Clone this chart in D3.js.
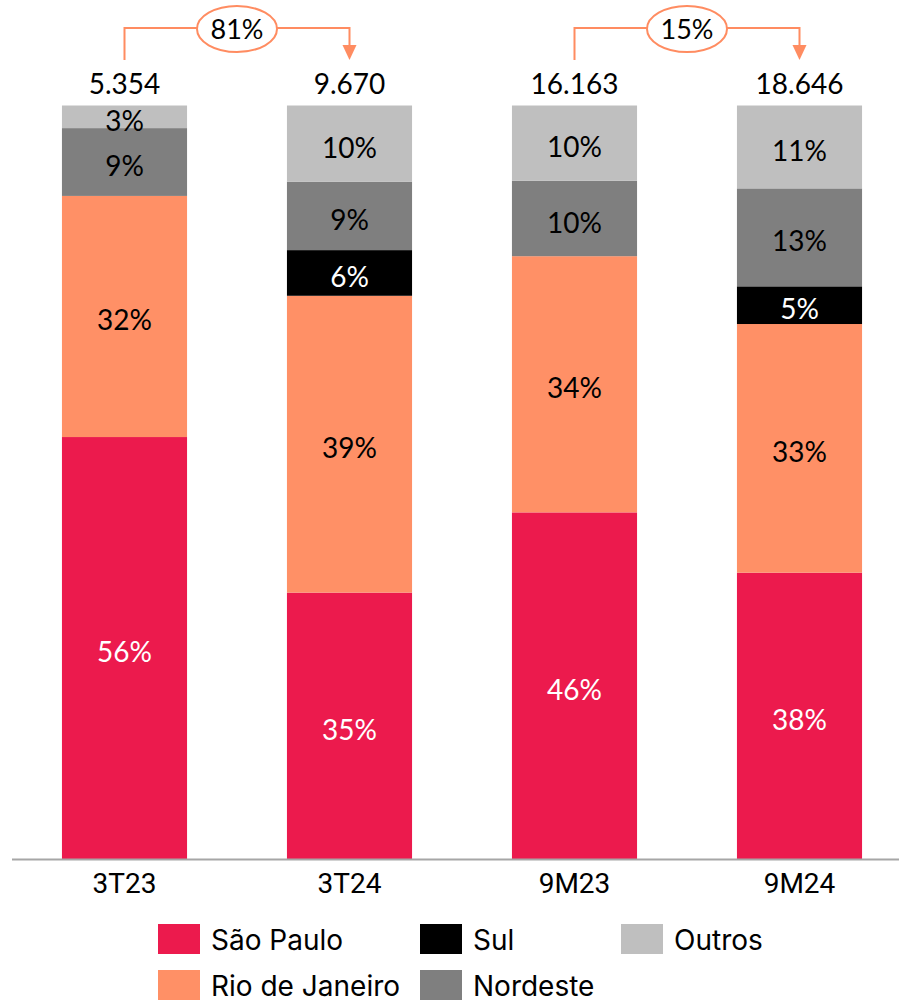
<!DOCTYPE html>
<html>
<head>
<meta charset="utf-8">
<script src="https://cdn.jsdelivr.net/npm/d3@7"></script>
<style>
  html, body { margin: 0; padding: 0; background: #fff; }
  svg { display: block; }
</style>
</head>
<body>
<div id="chart"></div>
<script>
const WIDTH = 899;
const HEIGHT = 1003;

// data
const categories = ['3T23', '3T24', '9M23', '9M24'];
const totals = ['5.354', '9.670', '16.163', '18.646'];
const regions = ['São Paulo', 'Rio de Janeiro', 'Sul', 'Nordeste', 'Outros'];
const saoPaulo = [56, 35, 46, 38];
const rioDeJaneiro = [32, 39, 34, 33];
const sul = [0, 6, 0, 5];
const nordeste = [9, 9, 10, 13];
const outros = [3, 10, 10, 11];
const growth = [
  {from: '3T23', to: '3T24', label: '81%'},
  {from: '9M23', to: '9M24', label: '15%'}
];

const COLORS = ['#EC1A4D', '#FF9066', '#000000', '#7F7F7F', '#BFBFBF'];
const TEXT_COLORS = ['#fff', '#000', '#fff', '#000', '#000'];
const ARROW = '#FF8C61';

const series = [saoPaulo, rioDeJaneiro, sul, nordeste, outros];
const table = categories.map((c, i) => {
  const row = {cat: c};
  regions.forEach((r, j) => { row[r] = series[j][i]; });
  return row;
});

const stacked = d3.stack()
  .keys(regions)
  .offset(d3.stackOffsetExpand)(table);

const svg = d3.select('#chart').append('svg')
  .attr('width', WIDTH)
  .attr('height', HEIGHT);

const x = d3.scaleBand()
  .domain(categories)
  .range([12, 912])
  .paddingInner(0.444)
  .paddingOuter(0.222);

const y = d3.scaleLinear()
  .domain([0, 1])
  .range([859, 105.5]);

const NUM_FONT = 'Lato, "Open Sans", sans-serif';

// bars
const layers = svg.append('g').selectAll('g')
  .data(stacked)
  .join('g')
    .attr('fill', (d, i) => COLORS[i]);

layers.selectAll('rect')
  .data(d => d)
  .join('rect')
    .attr('x', d => x(d.data.cat))
    .attr('width', x.bandwidth())
    .attr('y', d => y(d[1]))
    .attr('height', d => y(d[0]) - y(d[1]));

// segment labels
stacked.forEach((layer, i) => {
  svg.append('g').selectAll('text')
    .data(layer.filter(d => d.data[layer.key] > 0))
    .join('text')
      .attr('x', d => x(d.data.cat) + x.bandwidth() / 2)
      .attr('y', d => (y(d[0]) + y(d[1])) / 2)
      .attr('dy', '0.5em')
      .attr('text-anchor', 'middle')
      .attr('font-family', NUM_FONT)
      .attr('font-size', '28px')
      .attr('fill', TEXT_COLORS[i])
      .text(d => d.data[layer.key] + '%');
});

// axis line
svg.append('line')
  .attr('x1', 12).attr('x2', WIDTH)
  .attr('y1', y(0) + 0.5).attr('y2', y(0) + 0.5)
  .attr('stroke', '#A6A6A6')
  .attr('stroke-width', 2);

// category labels
svg.append('g').selectAll('text')
  .data(categories)
  .join('text')
    .attr('x', d => x(d) + x.bandwidth() / 2)
    .attr('y', 893)
    .attr('text-anchor', 'middle')
    .attr('font-family', 'Roboto, sans-serif')
    .attr('font-size', '28px')
    .attr('fill', '#000')
    .text(d => d);

// totals above bars
svg.append('g').selectAll('text')
  .data(categories)
  .join('text')
    .attr('x', d => x(d) + x.bandwidth() / 2)
    .attr('y', 94)
    .attr('text-anchor', 'middle')
    .attr('font-family', NUM_FONT)
    .attr('font-size', '28px')
    .attr('fill', '#000')
    .text((d, i) => totals[i]);

// growth arrows
const topY = 28;
growth.forEach(g => {
  const x1 = x(g.from) + x.bandwidth() / 2;
  const x2 = x(g.to) + x.bandwidth() / 2;
  const arr = svg.append('g');
  arr.append('path')
    .attr('d', `M${x1},60 V${topY} H${x2} V46`)
    .attr('fill', 'none')
    .attr('stroke', ARROW)
    .attr('stroke-width', 2);
  arr.append('path')
    .attr('d', `M${x2 - 7},45 L${x2 + 7},45 L${x2},60 Z`)
    .attr('fill', ARROW);
  const cx = (x1 + x2) / 2;
  arr.append('ellipse')
    .attr('cx', cx).attr('cy', 29)
    .attr('rx', 40).attr('ry', 23)
    .attr('fill', '#fff')
    .attr('stroke', ARROW)
    .attr('stroke-width', 2);
  arr.append('text')
    .attr('x', cx).attr('y', 29)
    .attr('dy', '0.38em')
    .attr('text-anchor', 'middle')
    .attr('font-family', NUM_FONT)
    .attr('font-size', '27px')
    .attr('fill', '#000')
    .text(g.label);
});

// legend
const legendPos = [
  {x: 158, y: 924}, {x: 158, y: 970},
  {x: 420, y: 924}, {x: 420, y: 970},
  {x: 621, y: 924}
];
const legend = svg.append('g').selectAll('g')
  .data(regions)
  .join('g')
    .attr('transform', (d, i) => `translate(${legendPos[i].x},${legendPos[i].y})`);

legend.append('rect')
  .attr('width', 42)
  .attr('height', 30)
  .attr('fill', (d, i) => COLORS[i]);

legend.append('text')
  .attr('x', 53)
  .attr('y', 15)
  .attr('dy', '0.4em')
  .attr('font-family', 'Inter, "Noto Sans", sans-serif')
  .attr('font-size', '28px')
  .attr('fill', '#000')
  .text(d => d);
</script>
</body>
</html>
